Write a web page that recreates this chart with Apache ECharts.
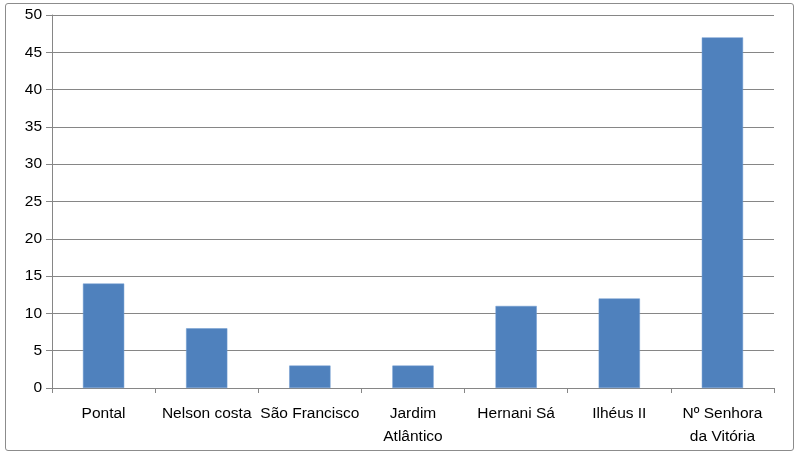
<!DOCTYPE html>
<html>
<head>
<meta charset="utf-8">
<script src="https://cdn.jsdelivr.net/npm/echarts@6/dist/echarts.min.js"></script>
<style>
html, body { margin: 0; padding: 0; background: #fff; }
#frame { position: absolute; left: 5px; top: 3px; width: 789px; height: 448px; border: 1px solid #8c8c8c; border-radius: 3px; box-sizing: border-box; }
#main { position: absolute; left: 0; top: 0; width: 799px; height: 457px; }
</style>
</head>
<body>
<div id="frame"></div>
<div id="main"></div>
<script>
var bairros = ['Pontal', 'Nelson costa', 'São Francisco', 'Jardim\nAtlântico', 'Hernani Sá', 'Ilhéus II', 'Nº Senhora\nda Vitória'];
var valores = [14, 8, 3, 3, 11, 12, 47];

var myChart = echarts.init(document.getElementById('main'));
var option = {
    animation: false,
    grid: { left: 52, right: 25, top: 15, bottom: 69 },
    xAxis: {
        type: 'category',
        data: bairros,
        axisLine: { lineStyle: { color: '#868686', width: 1 } },
        axisTick: { show: true, length: 5, lineStyle: { color: '#868686' } },
        axisLabel: {
            interval: 0,
            margin: 14,
            color: '#000',
            fontFamily: 'Liberation Sans',
            fontSize: 15.5,
            lineHeight: 23
        }
    },
    yAxis: {
        type: 'value',
        min: 0,
        max: 50,
        interval: 5,
        axisLine: { show: true, lineStyle: { color: '#868686' } },
        axisTick: { show: true, length: 6, lineStyle: { color: '#868686' } },
        axisLabel: {
            margin: 10,
            color: '#000',
            fontFamily: 'Liberation Sans',
            fontSize: 15.5
        },
        splitLine: { lineStyle: { color: '#868686', width: 1 } }
    },
    series: [{
        type: 'bar',
        data: valores,
        barWidth: '40%',
        itemStyle: { color: '#4F81BD', borderColor: '#6f9ad0', borderWidth: 0.5 }
    }]
};
myChart.setOption(option);
</script>
</body>
</html>
